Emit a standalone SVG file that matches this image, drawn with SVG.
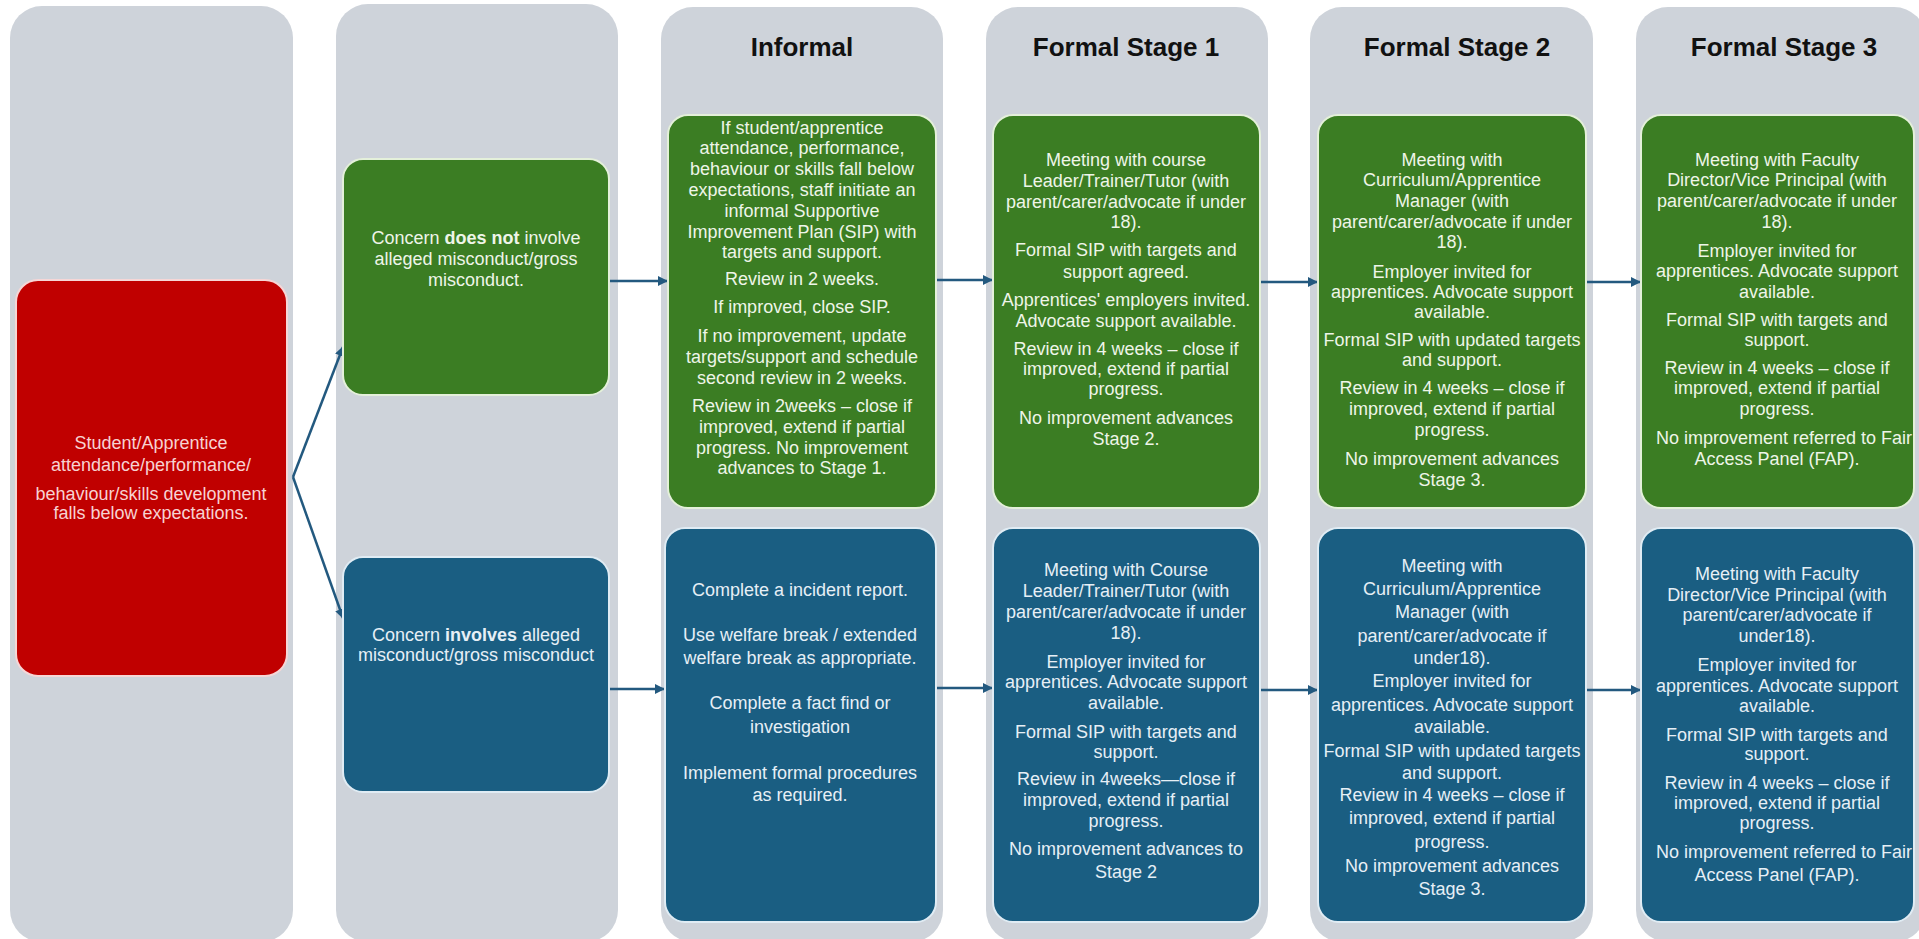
<svg xmlns="http://www.w3.org/2000/svg" width="1919" height="939" viewBox="0 0 1919 939">
<style>
  .lane { fill: #CED3DA; }
  .title { font-family: "Liberation Sans", Arial, sans-serif; font-size: 26px; font-weight: bold; fill: #111111; text-anchor: middle; }
  .t { font-family: "Liberation Sans", Arial, sans-serif; font-size: 18px; text-anchor: middle; }
  .green { fill: #3B7D23; stroke: #E4F0DA; stroke-width: 2; }
  .blue { fill: #1A5E82; stroke: #E0ECF4; stroke-width: 2; }
  .red { fill: #C00000; stroke: #F6D6D6; stroke-width: 2; }
  .gt { fill: #EEF5E8; }
  .bt { fill: #E6EFF6; }
  .rt { fill: #F7D2D2; }
  .conn { stroke: #23597F; stroke-width: 2.5; fill: none; marker-end: url(#ah); }
</style>
<defs>
  <marker id="ah" viewBox="0 0 10 10" refX="9" refY="5" markerWidth="4" markerHeight="4" orient="auto" markerUnits="strokeWidth">
    <path d="M0,0 L10,5 L0,10 z" fill="#23597F"/>
  </marker>
</defs>
<rect width="1919" height="939" fill="#FFFFFF"/>

<g id="lanes">
  <rect class="lane" x="10" y="6" width="283" height="936" rx="32"/>
  <rect class="lane" x="336" y="4" width="282" height="938" rx="32"/>
  <g id="lane-informal">
    <rect class="lane" x="661" y="7" width="282" height="935" rx="32"/>
    <text class="title" x="802" y="56">Informal</text>
  </g>
  <g id="lane-stage1">
    <rect class="lane" x="986" y="7" width="282" height="935" rx="32"/>
    <text class="title" x="1126" y="56">Formal Stage 1</text>
  </g>
  <g id="lane-stage2">
    <rect class="lane" x="1310" y="7" width="283" height="935" rx="32"/>
    <text class="title" x="1457" y="56">Formal Stage 2</text>
  </g>
  <g id="lane-stage3">
    <rect class="lane" x="1636" y="7" width="290" height="935" rx="32"/>
    <text class="title" x="1784" y="56">Formal Stage 3</text>
  </g>
</g>

<g id="connectors">
  <path class="conn" d="M293,477 L343,347"/>
  <path class="conn" d="M293,477 L343,618"/>
  <path class="conn" d="M609,281 L667,281"/>
  <path class="conn" d="M609,689 L664,689"/>
  <path class="conn" d="M936,280 L992,280"/>
  <path class="conn" d="M936,688 L992,688"/>
  <path class="conn" d="M1260,282 L1317,282"/>
  <path class="conn" d="M1261,690 L1317,690"/>
  <path class="conn" d="M1586,282 L1640,282"/>
  <path class="conn" d="M1586,690 L1640,690"/>
</g>

<g id="start">
  <rect class="red" x="16" y="280" width="271" height="396" rx="22"/>
  <text class="t rt" x="151" y="449">Student/Apprentice</text>
  <text class="t rt" x="151" y="471">attendance/performance/</text>
  <text class="t rt" x="151" y="500">behaviour/skills development</text>
  <text class="t rt" x="151" y="519">falls below expectations.</text>
</g>

<g id="no-misconduct">
  <rect class="green" x="343" y="159" width="266" height="236" rx="20"/>
  <text class="t gt" x="476" y="244">Concern <tspan font-weight="bold">does not</tspan> involve</text>
  <text class="t gt" x="476" y="265">alleged misconduct/gross</text>
  <text class="t gt" x="476" y="286">misconduct.</text>
</g>

<g id="misconduct">
  <rect class="blue" x="343" y="557" width="266" height="235" rx="20"/>
  <text class="t bt" x="476" y="641">Concern <tspan font-weight="bold">involves</tspan> alleged</text>
  <text class="t bt" x="476" y="661">misconduct/gross misconduct</text>
</g>

<g id="informal-green">
  <rect class="green" x="668" y="115" width="268" height="393" rx="20"/>
  <text class="t gt" x="802" y="134">If student/apprentice</text>
  <text class="t gt" x="802" y="154">attendance, performance,</text>
  <text class="t gt" x="802" y="175">behaviour or skills fall below</text>
  <text class="t gt" x="802" y="196">expectations, staff initiate an</text>
  <text class="t gt" x="802" y="217">informal Supportive</text>
  <text class="t gt" x="802" y="238">Improvement Plan (SIP) with</text>
  <text class="t gt" x="802" y="258">targets and support.</text>
  <text class="t gt" x="802" y="285">Review in 2 weeks.</text>
  <text class="t gt" x="802" y="313">If improved, close SIP.</text>
  <text class="t gt" x="802" y="342">If no improvement, update</text>
  <text class="t gt" x="802" y="363">targets/support and schedule</text>
  <text class="t gt" x="802" y="384">second review in 2 weeks.</text>
  <text class="t gt" x="802" y="412">Review in 2weeks – close if</text>
  <text class="t gt" x="802" y="433">improved, extend if partial</text>
  <text class="t gt" x="802" y="454">progress. No improvement</text>
  <text class="t gt" x="802" y="474">advances to Stage 1.</text>
</g>

<g id="stage1-green">
  <rect class="green" x="993" y="115" width="267" height="393" rx="20"/>
  <text class="t gt" x="1126" y="166">Meeting with course</text>
  <text class="t gt" x="1126" y="187">Leader/Trainer/Tutor (with</text>
  <text class="t gt" x="1126" y="208">parent/carer/advocate if under</text>
  <text class="t gt" x="1126" y="228">18).</text>
  <text class="t gt" x="1126" y="256">Formal SIP with targets and</text>
  <text class="t gt" x="1126" y="278">support agreed.</text>
  <text class="t gt" x="1126" y="306">Apprentices' employers invited.</text>
  <text class="t gt" x="1126" y="327">Advocate support available.</text>
  <text class="t gt" x="1126" y="355">Review in 4 weeks – close if</text>
  <text class="t gt" x="1126" y="375">improved, extend if partial</text>
  <text class="t gt" x="1126" y="395">progress.</text>
  <text class="t gt" x="1126" y="424">No improvement advances</text>
  <text class="t gt" x="1126" y="445">Stage 2.</text>
</g>

<g id="stage2-green">
  <rect class="green" x="1318" y="115" width="268" height="393" rx="20"/>
  <text class="t gt" x="1452" y="166">Meeting with</text>
  <text class="t gt" x="1452" y="186">Curriculum/Apprentice</text>
  <text class="t gt" x="1452" y="207">Manager (with</text>
  <text class="t gt" x="1452" y="228">parent/carer/advocate if under</text>
  <text class="t gt" x="1452" y="248">18).</text>
  <text class="t gt" x="1452" y="278">Employer invited for</text>
  <text class="t gt" x="1452" y="298">apprentices. Advocate support</text>
  <text class="t gt" x="1452" y="318">available.</text>
  <text class="t gt" x="1452" y="346">Formal SIP with updated targets</text>
  <text class="t gt" x="1452" y="366">and support.</text>
  <text class="t gt" x="1452" y="394">Review in 4 weeks – close if</text>
  <text class="t gt" x="1452" y="415">improved, extend if partial</text>
  <text class="t gt" x="1452" y="436">progress.</text>
  <text class="t gt" x="1452" y="465">No improvement advances</text>
  <text class="t gt" x="1452" y="486">Stage 3.</text>
</g>

<g id="stage3-green">
  <rect class="green" x="1641" y="115" width="273" height="393" rx="20"/>
  <text class="t gt" x="1777" y="166">Meeting with Faculty</text>
  <text class="t gt" x="1777" y="186">Director/Vice Principal (with</text>
  <text class="t gt" x="1777" y="207">parent/carer/advocate if under</text>
  <text class="t gt" x="1777" y="228">18).</text>
  <text class="t gt" x="1777" y="257">Employer invited for</text>
  <text class="t gt" x="1777" y="277">apprentices.  Advocate support</text>
  <text class="t gt" x="1777" y="298">available.</text>
  <text class="t gt" x="1777" y="326">Formal SIP with targets and</text>
  <text class="t gt" x="1777" y="346">support.</text>
  <text class="t gt" x="1777" y="374">Review in 4 weeks – close if</text>
  <text class="t gt" x="1777" y="394">improved, extend if partial</text>
  <text class="t gt" x="1777" y="415">progress.</text>
  <text class="t gt" x="1784" y="444">No improvement referred to Fair</text>
  <text class="t gt" x="1777" y="465">Access Panel (FAP).</text>
</g>

<g id="informal-blue">
  <rect class="blue" x="665" y="528" width="271" height="394" rx="20"/>
  <text class="t bt" x="800" y="596">Complete a incident report.</text>
  <text class="t bt" x="800" y="641">Use welfare break / extended</text>
  <text class="t bt" x="800" y="664">welfare break as appropriate.</text>
  <text class="t bt" x="800" y="709">Complete a fact find or</text>
  <text class="t bt" x="800" y="733">investigation</text>
  <text class="t bt" x="800" y="779">Implement formal procedures</text>
  <text class="t bt" x="800" y="801">as required.</text>
</g>

<g id="stage1-blue">
  <rect class="blue" x="993" y="528" width="267" height="394" rx="20"/>
  <text class="t bt" x="1126" y="576">Meeting with Course</text>
  <text class="t bt" x="1126" y="597">Leader/Trainer/Tutor (with</text>
  <text class="t bt" x="1126" y="618">parent/carer/advocate if under</text>
  <text class="t bt" x="1126" y="639">18).</text>
  <text class="t bt" x="1126" y="668">Employer invited for</text>
  <text class="t bt" x="1126" y="688">apprentices. Advocate support</text>
  <text class="t bt" x="1126" y="709">available.</text>
  <text class="t bt" x="1126" y="738">Formal SIP with targets and</text>
  <text class="t bt" x="1126" y="758">support.</text>
  <text class="t bt" x="1126" y="785">Review in 4weeks—close if</text>
  <text class="t bt" x="1126" y="806">improved, extend if partial</text>
  <text class="t bt" x="1126" y="827">progress.</text>
  <text class="t bt" x="1126" y="855">No improvement advances to</text>
  <text class="t bt" x="1126" y="878">Stage 2</text>
</g>

<g id="stage2-blue">
  <rect class="blue" x="1318" y="528" width="268" height="394" rx="20"/>
  <text class="t bt" x="1452" y="572">Meeting with</text>
  <text class="t bt" x="1452" y="595">Curriculum/Apprentice</text>
  <text class="t bt" x="1452" y="618">Manager (with</text>
  <text class="t bt" x="1452" y="642">parent/carer/advocate if</text>
  <text class="t bt" x="1452" y="664">under18).</text>
  <text class="t bt" x="1452" y="687">Employer invited for</text>
  <text class="t bt" x="1452" y="711">apprentices. Advocate support</text>
  <text class="t bt" x="1452" y="733">available.</text>
  <text class="t bt" x="1452" y="757">Formal SIP with updated targets</text>
  <text class="t bt" x="1452" y="779">and support.</text>
  <text class="t bt" x="1452" y="801">Review in 4 weeks – close if</text>
  <text class="t bt" x="1452" y="824">improved, extend if partial</text>
  <text class="t bt" x="1452" y="848">progress.</text>
  <text class="t bt" x="1452" y="872">No improvement advances</text>
  <text class="t bt" x="1452" y="895">Stage 3.</text>
</g>

<g id="stage3-blue">
  <rect class="blue" x="1641" y="528" width="273" height="394" rx="20"/>
  <text class="t bt" x="1777" y="580">Meeting with Faculty</text>
  <text class="t bt" x="1777" y="601">Director/Vice Principal (with</text>
  <text class="t bt" x="1777" y="621">parent/carer/advocate if</text>
  <text class="t bt" x="1777" y="642">under18).</text>
  <text class="t bt" x="1777" y="671">Employer invited for</text>
  <text class="t bt" x="1777" y="692">apprentices. Advocate support</text>
  <text class="t bt" x="1777" y="712">available.</text>
  <text class="t bt" x="1777" y="741">Formal SIP with targets and</text>
  <text class="t bt" x="1777" y="760">support.</text>
  <text class="t bt" x="1777" y="789">Review in 4 weeks – close if</text>
  <text class="t bt" x="1777" y="809">improved, extend if partial</text>
  <text class="t bt" x="1777" y="829">progress.</text>
  <text class="t bt" x="1784" y="858">No improvement referred to Fair</text>
  <text class="t bt" x="1777" y="881">Access Panel (FAP).</text>
</g>
</svg>
